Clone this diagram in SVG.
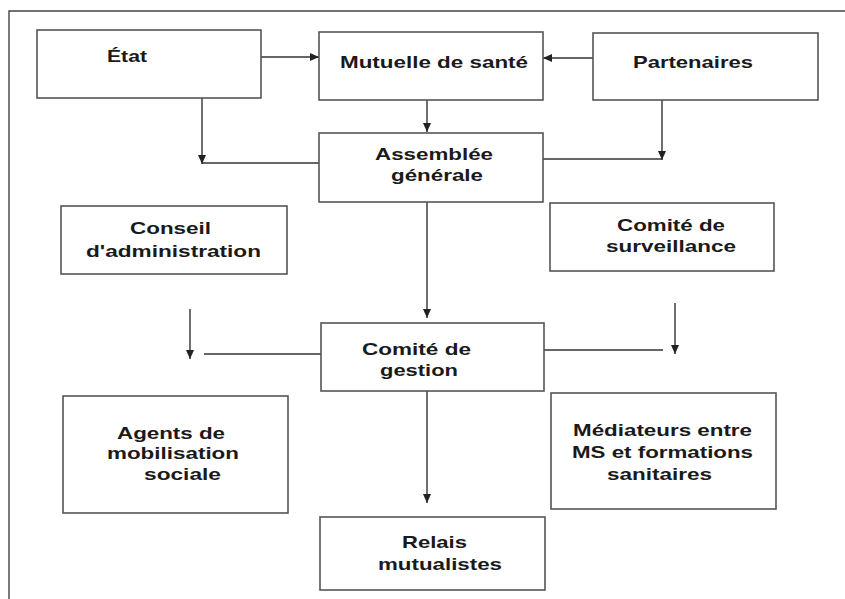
<svg xmlns="http://www.w3.org/2000/svg" width="845" height="599" viewBox="0 0 845 599">
<style>
.box{fill:#fff;stroke:#555;stroke-width:1.6}
.ln{fill:none;stroke:#333;stroke-width:1.4}
.t{font-family:"Liberation Sans",Arial,sans-serif;font-weight:bold;font-size:17px;fill:#1a1a1a}
</style>
<defs>
<marker id="ah" markerUnits="userSpaceOnUse" markerWidth="9" markerHeight="8" refX="9" refY="4" orient="auto">
<path d="M0,0 L9,4 L0,8 z" fill="#222"/>
</marker>
</defs>
<rect width="845" height="599" fill="#fff"/>
<path d="M9,599 V11 H845" fill="none" stroke="#444" stroke-width="1.4"/>
<g id="connectors">
<path class="ln" d="M261,57 H319" marker-end="url(#ah)"/>
<path class="ln" d="M593,58 H543" marker-end="url(#ah)"/>
<path class="ln" d="M427,100 V132" marker-end="url(#ah)"/>
<path class="ln" d="M202,98 V164" marker-end="url(#ah)"/>
<path class="ln" d="M202,163 H319"/>
<path class="ln" d="M662,100 V160" marker-end="url(#ah)"/>
<path class="ln" d="M543,159 H662"/>
<path class="ln" d="M427,202 V318" marker-end="url(#ah)"/>
<path class="ln" d="M190,309 V359" marker-end="url(#ah)"/>
<path class="ln" d="M204,354 H321"/>
<path class="ln" d="M675,303 V354" marker-end="url(#ah)"/>
<path class="ln" d="M544,350 H663"/>
<path class="ln" d="M427,391 V503" marker-end="url(#ah)"/>
</g>
<g id="etat">
<rect class="box" x="37" y="30" width="224" height="68"/>
<text class="t" x="107" y="62" textLength="40" lengthAdjust="spacingAndGlyphs">État</text>
</g>
<g id="mutuelle">
<rect class="box" x="319" y="32" width="224" height="68"/>
<text class="t" x="340" y="68" textLength="188" lengthAdjust="spacingAndGlyphs">Mutuelle de santé</text>
</g>
<g id="partenaires">
<rect class="box" x="593" y="33" width="225" height="67"/>
<text class="t" x="633" y="68" textLength="120" lengthAdjust="spacingAndGlyphs">Partenaires</text>
</g>
<g id="assemblee">
<rect class="box" x="319" y="133" width="224" height="69"/>
<text class="t" x="375" y="160" textLength="118" lengthAdjust="spacingAndGlyphs">Assemblée</text>
<text class="t" x="391" y="181" textLength="92" lengthAdjust="spacingAndGlyphs">générale</text>
</g>
<g id="conseil">
<rect class="box" x="61" y="206" width="226" height="68"/>
<text class="t" x="130" y="234" textLength="81" lengthAdjust="spacingAndGlyphs">Conseil</text>
<text class="t" x="86" y="257" textLength="175" lengthAdjust="spacingAndGlyphs">d'administration</text>
</g>
<g id="surveillance">
<rect class="box" x="550" y="203" width="224" height="68"/>
<text class="t" x="617" y="231" textLength="108" lengthAdjust="spacingAndGlyphs">Comité de</text>
<text class="t" x="606" y="252" textLength="130" lengthAdjust="spacingAndGlyphs">surveillance</text>
</g>
<g id="gestion">
<rect class="box" x="321" y="323" width="223" height="68"/>
<text class="t" x="362" y="355" textLength="109" lengthAdjust="spacingAndGlyphs">Comité de</text>
<text class="t" x="380" y="376" textLength="78" lengthAdjust="spacingAndGlyphs">gestion</text>
</g>
<g id="agents">
<rect class="box" x="63" y="396" width="225" height="117"/>
<text class="t" x="117" y="439" textLength="108" lengthAdjust="spacingAndGlyphs">Agents de</text>
<text class="t" x="107" y="459" textLength="132" lengthAdjust="spacingAndGlyphs">mobilisation</text>
<text class="t" x="144" y="480" textLength="77" lengthAdjust="spacingAndGlyphs">sociale</text>
</g>
<g id="mediateurs">
<rect class="box" x="551" y="393" width="225" height="116"/>
<text class="t" x="573" y="436" textLength="179" lengthAdjust="spacingAndGlyphs">Médiateurs entre</text>
<text class="t" x="572" y="458" textLength="181" lengthAdjust="spacingAndGlyphs">MS et formations</text>
<text class="t" x="607" y="480" textLength="105" lengthAdjust="spacingAndGlyphs">sanitaires</text>
</g>
<g id="relais">
<rect class="box" x="320" y="517" width="225" height="73"/>
<text class="t" x="402" y="548" textLength="65" lengthAdjust="spacingAndGlyphs">Relais</text>
<text class="t" x="378" y="570" textLength="124" lengthAdjust="spacingAndGlyphs">mutualistes</text>
</g>
</svg>
